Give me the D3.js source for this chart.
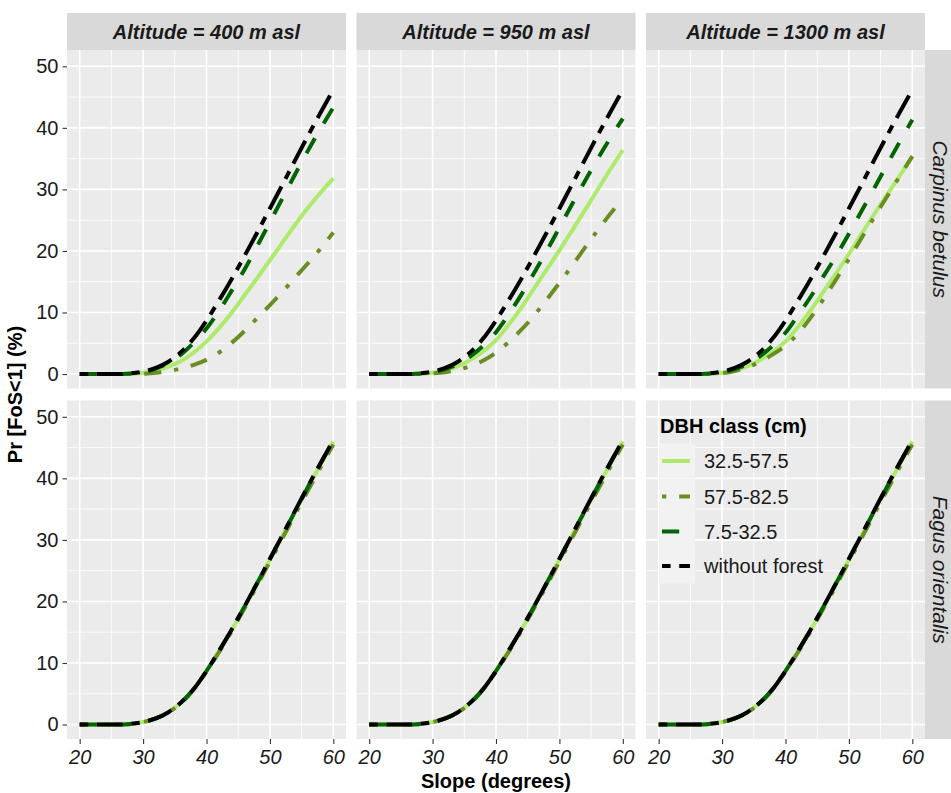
<!DOCTYPE html>
<html><head><meta charset="utf-8">
<script src="https://cdn.jsdelivr.net/npm/d3@7"></script>
<style>
body{margin:0;background:#fff;}
text{font-family:"Liberation Sans", Arial, sans-serif;}
</style>
</head><body>
<svg id="chart" width="951" height="793"></svg>
<script>
// ---------- data ----------
const slope = [20,22,24,26,28,30,32,34,36,38,40,42,44,46,48,50,52,54,56,58,60];
const altitudes = ["Altitude = 400 m asl","Altitude = 950 m asl","Altitude = 1300 m asl"];
const species = ["Carpinus betulus","Fagus orientalis"];
const dbhClasses = ["32.5-57.5","57.5-82.5","7.5-32.5","without forest"];
const xTicks = [20,30,40,50,60];
const yTicks = [0,10,20,30,40,50];

// without forest (same in every panel)
const withoutForest = [0,0,0,0,0.1,0.4,1.0,2.0,3.6,5.8,8.7,12.0,15.5,19.2,23.0,26.9,30.8,34.8,38.7,42.5,46.2];

// Carpinus betulus, 400 m
const carp400_d325 = [0,0,0,0,0,0.2,0.6,1.2,2.1,3.5,5.3,7.5,10.0,12.8,15.6,18.5,21.4,24.3,27.0,29.5,31.8];
const carp400_d575 = [0,0,0,0,0,0.05,0.2,0.5,0.9,1.5,2.3,3.5,5.1,7.0,9.1,11.2,13.4,15.7,18.0,20.4,23.0];
const carp400_d75  = [0,0,0,0,0.1,0.3,0.9,1.8,3.2,5.1,7.4,10.3,13.6,17.0,20.8,24.7,28.6,32.5,36.3,39.9,43.3];
// Carpinus betulus, 950 m
const carp950_d325 = [0,0,0,0,0,0.2,0.6,1.3,2.3,3.7,5.5,8.0,10.8,13.9,17.0,20.1,23.3,26.6,29.9,33.2,36.4];
const carp950_d575 = [0,0,0,0,0,0.1,0.3,0.7,1.3,2.2,3.5,5.2,7.2,9.5,12.1,14.8,17.6,20.5,23.3,26.0,28.5];
const carp950_d75  = [0,0,0,0,0.1,0.3,0.8,1.6,2.9,4.6,6.8,9.7,12.9,16.4,20.0,23.8,27.6,31.3,34.9,38.3,41.5];
// Carpinus betulus, 1300 m
const carp1300_d325 = [0,0,0,0,0,0.2,0.6,1.3,2.3,3.6,5.3,7.7,10.4,13.4,16.4,19.5,22.8,26.0,29.1,32.2,35.3];
const carp1300_d575 = [0,0,0,0,0,0.15,0.5,1.1,2.0,3.2,4.6,6.6,9.2,12.2,15.4,18.7,22.1,25.5,28.8,32.1,35.4];
const carp1300_d75  = [0,0,0,0,0.1,0.3,0.8,1.6,2.9,4.6,6.7,9.6,12.6,15.9,19.2,22.8,26.5,30.2,34.0,37.7,41.3];
// Fagus orientalis (all three altitudes)
const fagus_d325 = [0,0,0,0,0.1,0.4,1.0,2.0,3.6,5.8,8.7,12.0,15.4,19.1,22.9,26.8,30.7,34.6,38.5,42.3,46.0];
const fagus_d575 = [0,0,0,0,0.1,0.4,1.0,2.0,3.5,5.7,8.6,11.8,15.2,18.9,22.6,26.5,30.3,34.2,38.0,41.8,45.5];
const fagus_d75  = [0,0,0,0,0.1,0.4,1.0,2.0,3.6,5.8,8.7,12.0,15.5,19.2,23.0,26.9,30.8,34.7,38.6,42.4,46.1];

const panelSeries = [
  [[carp400_d325,carp400_d575,carp400_d75,withoutForest],
   [carp950_d325,carp950_d575,carp950_d75,withoutForest],
   [carp1300_d325,carp1300_d575,carp1300_d75,withoutForest]],
  [[fagus_d325,fagus_d575,fagus_d75,withoutForest],
   [fagus_d325,fagus_d575,fagus_d75,withoutForest],
   [fagus_d325,fagus_d575,fagus_d75,withoutForest]]
];

// ---------- styles ----------
const colors = ["#aeea6c","#6b8e23","#006400","#000000"];
const lw = 4, du = 4.3;
const dashes = [null, [1,3,4,3], [4,4], [2,2,6,2]].map(d => d ? d.map(v => v*du).join(",") : null);

// ---------- layout ----------
const svg = d3.select("#chart");
const panelW = 279, panelH = 338.5;
const lefts = [67, 356.5, 646];
const tops = [50, 400.5];
const stripTop = 13;

const x = d3.scaleLinear().domain([18,62]).range([0,panelW]);
const y = d3.scaleLinear().domain([-2.35,52.65]).range([panelH,0]);
const minorX = [25,35,45,55];
const minorY = [5,15,25,35,45];

const line = d3.line().x((d,i)=>x(slope[i])).y(d=>y(d)).curve(d3.curveMonotoneX);

// top strips
altitudes.forEach((a,c)=>{
  svg.append("rect").attr("x",lefts[c]).attr("y",stripTop).attr("width",panelW).attr("height",tops[0]-stripTop).attr("fill","#d9d9d9");
  svg.append("text").attr("x",lefts[c]+panelW/2).attr("y",(stripTop+tops[0])/2).attr("text-anchor","middle")
    .attr("dominant-baseline","central").attr("font-size",20).attr("font-weight","bold").attr("font-style","italic")
    .attr("fill","#1a1a1a").text(a);
});
// right strips
species.forEach((s,r)=>{
  svg.append("rect").attr("x",lefts[2]+panelW).attr("y",tops[r]).attr("width",40).attr("height",panelH).attr("fill","#d9d9d9");
  const cx = lefts[2]+panelW+15, cy = tops[r]+panelH/2;
  svg.append("text").attr("transform",`translate(${cx},${cy}) rotate(90)`).attr("text-anchor","middle")
    .attr("dominant-baseline","central").attr("font-size",21).attr("font-style","italic")
    .attr("fill","#1a1a1a").text(s);
});

for (let r=0;r<2;r++){
  for (let c=0;c<3;c++){
    const g = svg.append("g").attr("transform",`translate(${lefts[c]},${tops[r]})`);
    g.append("rect").attr("width",panelW).attr("height",panelH).attr("fill","#ebebeb");
    g.selectAll(".mx").data(minorX).enter().append("line").attr("x1",d=>x(d)).attr("x2",d=>x(d)).attr("y1",0).attr("y2",panelH).attr("stroke","#fff").attr("stroke-width",0.8);
    g.selectAll(".my").data(minorY).enter().append("line").attr("y1",d=>y(d)).attr("y2",d=>y(d)).attr("x1",0).attr("x2",panelW).attr("stroke","#fff").attr("stroke-width",0.8);
    g.selectAll(".Mx").data(xTicks).enter().append("line").attr("x1",d=>x(d)).attr("x2",d=>x(d)).attr("y1",0).attr("y2",panelH).attr("stroke","#fff").attr("stroke-width",1.6);
    g.selectAll(".My").data(yTicks).enter().append("line").attr("y1",d=>y(d)).attr("y2",d=>y(d)).attr("x1",0).attr("x2",panelW).attr("stroke","#fff").attr("stroke-width",1.6);

    panelSeries[r][c].forEach((vals,k)=>{
      const p = g.append("path").attr("d",line(vals)).attr("fill","none").attr("stroke",colors[k])
        .attr("stroke-width",lw).attr("stroke-linecap","butt").attr("stroke-linejoin","round");
      if (dashes[k]) p.attr("stroke-dasharray",dashes[k]);
    });

    if (c===0){
      const ax = g.append("g").call(d3.axisLeft(y).tickValues(yTicks).tickSize(4.5).tickPadding(4));
      ax.select(".domain").remove();
      ax.selectAll("line").attr("stroke","#333").attr("stroke-width",1.1);
      ax.selectAll("text").attr("font-size",20).attr("fill","#1a1a1a").attr("font-family","Liberation Sans, Arial, sans-serif");
    }
    if (r===1){
      const ax = g.append("g").attr("transform",`translate(0,${panelH})`).call(d3.axisBottom(x).tickValues(xTicks).tickSize(5).tickPadding(6));
      ax.select(".domain").remove();
      ax.selectAll("line").attr("stroke","#333").attr("stroke-width",1.1);
      ax.selectAll("text").attr("font-size",20).attr("font-style","italic").attr("fill","#1a1a1a").attr("font-family","Liberation Sans, Arial, sans-serif");
    }
  }
}

// axis titles
svg.append("text").attr("x",(lefts[0]+lefts[2]+panelW)/2).attr("y",788).attr("text-anchor","middle")
  .attr("font-size",20).attr("font-weight","bold").attr("fill","#000").text("Slope (degrees)");
svg.append("text").attr("transform",`translate(22,${(tops[0]+tops[1]+panelH)/2}) rotate(-90)`).attr("text-anchor","middle")
  .attr("font-size",20).attr("font-weight","bold").attr("fill","#000").text("Pr [FoS<1] (%)");

// legend
const lg = svg.append("g").attr("transform","translate(659,0)");
lg.append("text").attr("x",1).attr("y",433).attr("font-size",20).attr("font-weight","bold").attr("fill","#000").text("DBH class (cm)");
const rowY = [461,496.5,531.5,566];
dbhClasses.forEach((d,k)=>{
  lg.append("rect").attr("x",0).attr("y",rowY[k]-17.5).attr("width",36).attr("height",35).attr("fill","#f2f2f2");
  const l = lg.append("line").attr("x1",3).attr("x2",31).attr("y1",rowY[k]).attr("y2",rowY[k])
    .attr("stroke",colors[k]).attr("stroke-width",lw).attr("stroke-linecap","butt");
  if (dashes[k]) l.attr("stroke-dasharray",dashes[k]);
  lg.append("text").attr("x",45).attr("y",rowY[k]).attr("dominant-baseline","central").attr("font-size",20).attr("fill","#1a1a1a").text(d);
});
</script>
</body></html>
